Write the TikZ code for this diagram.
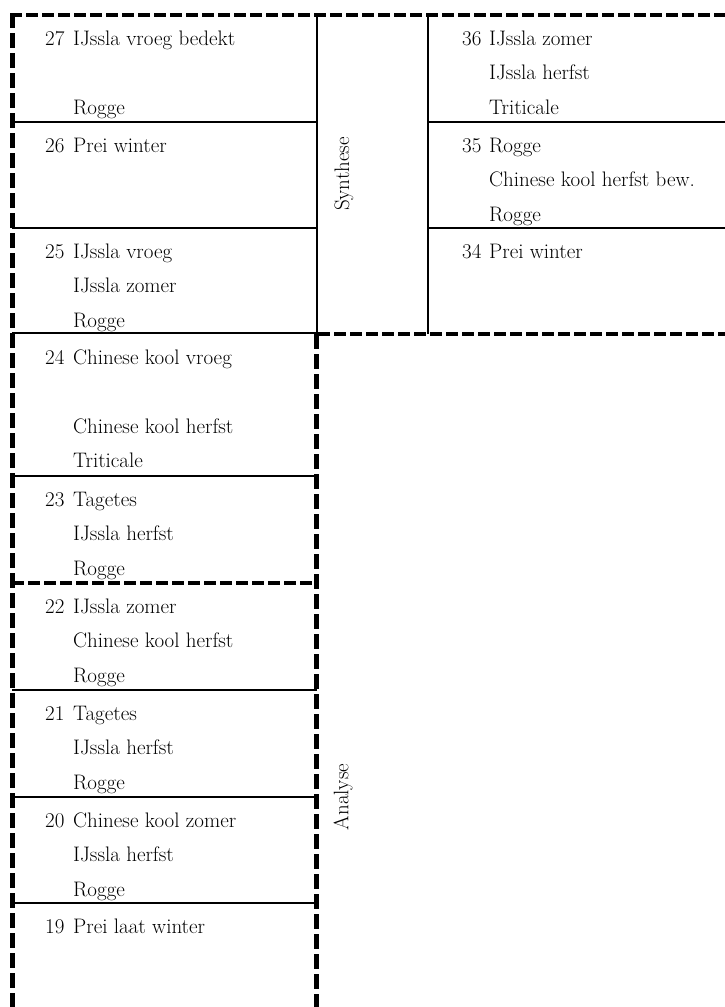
\documentclass[tikz,border=0pt]{standalone}
\begin{document}
\begin{tikzpicture}[x=1pt,y=-1pt,
  hdash/.style={line width=4pt,dash pattern=on 12pt off 4pt},
  vdash/.style={line width=5pt,dash pattern=on 15pt off 5pt},
  rule/.style={line width=1.6pt},
  crop/.style={anchor=base west,inner sep=0pt,font=\fontsize{21}{25}\selectfont},
  phase/.style={rotate=90,inner sep=0pt,font=\fontsize{21}{25}\selectfont}]
\useasboundingbox (0,0) rectangle (725,1007);

% ---- phase borders (dashed) ----
\draw[hdash] (10,15) -- (730,15);
\draw[vdash] (12,13) -- (12,1012);
\draw[hdash] (318,334) -- (730,334);
\draw[vdash] (316,334) -- (316,1012);
\draw[hdash] (12,583) -- (316,583);

% ---- field rules (solid) ----
\draw[rule] (317,15) -- (317,334);
\draw[rule] (428,15) -- (428,334);
\foreach \yy in {122,228,333,476,690,797,903}
  \draw[rule] (12,\yy) -- (317,\yy);
\foreach \yy in {122,228}
  \draw[rule] (428,\yy) -- (725,\yy);

% ---- phase labels ----
\node[phase] (synthese) at (344,174) {Synthese};
\node[phase] (analyse) at (343,797) {Analyse};

% ---- left column ----
% 27
\node[crop] (n27)  at (45,45)    {27};
\node[crop] (c27a) at (73,45)    {IJssla vroeg bedekt};
\node[crop] (c27b) at (73,114)   {Rogge};
% 26
\node[crop] (n26)  at (45,152)   {26};
\node[crop] (c26a) at (73,152)   {Prei winter};
% 25
\node[crop] (n25)  at (45,258)   {25};
\node[crop] (c25a) at (73,258)   {IJssla vroeg};
\node[crop] (c25b) at (73,292.5) {IJssla zomer};
\node[crop] (c25c) at (73,327)   {Rogge};
% 24
\node[crop] (n24)  at (45,364)   {24};
\node[crop] (c24a) at (73,364)   {Chinese kool vroeg};
\node[crop] (c24b) at (73,433)   {Chinese kool herfst};
\node[crop] (c24c) at (73,467.5) {Triticale};
% 23
\node[crop] (n23)  at (45,506)   {23};
\node[crop] (c23a) at (73,506)   {Tagetes};
\node[crop] (c23b) at (73,540.5) {IJssla herfst};
\node[crop] (c23c) at (73,575)   {Rogge};
% 22
\node[crop] (n22)  at (45,613)   {22};
\node[crop] (c22a) at (73,613)   {IJssla zomer};
\node[crop] (c22b) at (73,647.5) {Chinese kool herfst};
\node[crop] (c22c) at (73,682)   {Rogge};
% 21
\node[crop] (n21)  at (45,720)   {21};
\node[crop] (c21a) at (73,720)   {Tagetes};
\node[crop] (c21b) at (73,754.5) {IJssla herfst};
\node[crop] (c21c) at (73,789)   {Rogge};
% 20
\node[crop] (n20)  at (45,827)   {20};
\node[crop] (c20a) at (73,827)   {Chinese kool zomer};
\node[crop] (c20b) at (73,861.5) {IJssla herfst};
\node[crop] (c20c) at (73,896)   {Rogge};
% 19
\node[crop] (n19)  at (45,933)   {19};
\node[crop] (c19a) at (73,933)   {Prei laat winter};

% ---- right column ----
% 36
\node[crop] (n36)  at (462,45)   {36};
\node[crop] (c36a) at (489,45)   {IJssla zomer};
\node[crop] (c36b) at (489,79.5) {IJssla herfst};
\node[crop] (c36c) at (489,114)  {Triticale};
% 35
\node[crop] (n35)  at (462,152)  {35};
\node[crop] (c35a) at (489,152)  {Rogge};
\node[crop] (c35b) at (489,186.5){Chinese kool herfst bew.};
\node[crop] (c35c) at (489,221)  {Rogge};
% 34
\node[crop] (n34)  at (462,258)  {34};
\node[crop] (c34a) at (489,258)  {Prei winter};
\end{tikzpicture}
\end{document}
